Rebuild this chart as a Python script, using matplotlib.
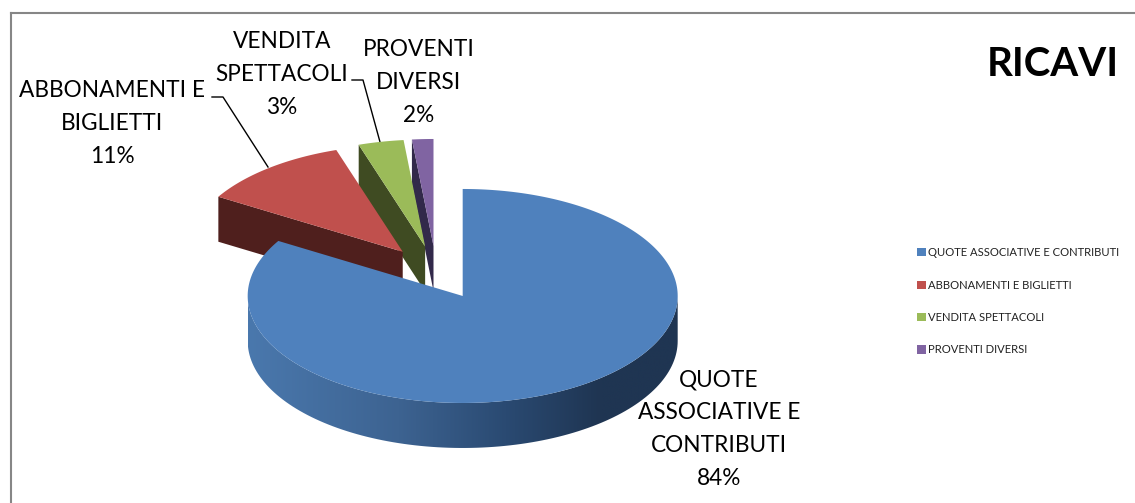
import numpy as np
import matplotlib
matplotlib.use('Agg')
import matplotlib.pyplot as plt
from matplotlib.patches import Polygon, Patch
from matplotlib.colors import LinearSegmentedColormap

plt.rcParams['font.family'] = ['Lato', 'DejaVu Sans']

# --- data ---
categories = ['QUOTE ASSOCIATIVE E CONTRIBUTI', 'ABBONAMENTI E BIGLIETTI',
              'VENDITA SPETTACOLI', 'PROVENTI DIVERSI']
values = [83.6, 11.4, 3.4, 1.6]
wrapped = ['QUOTE\nASSOCIATIVE E\nCONTRIBUTI', 'ABBONAMENTI E\nBIGLIETTI',
           'VENDITA\nSPETTACOLI', 'PROVENTI\nDIVERSI']

top_colors = ['#4F81BD', '#C0504D', '#9BBB59', '#8064A2']
side_colors = ['#1F3552', '#4F1F1D', '#3F4B22', '#32294A']
label_xy = [(719, 429), (112, 123.5), (282, 74.5), (418.5, 82.5)]

# pie geometry in pixels (y goes down)
cx, cy = 436.2, 272.7
rx, ry = 215, 107
depth = 45
explode = 0.25

fig = plt.figure(figsize=(11.35, 5.03), dpi=100)
ax = fig.add_axes([0, 0, 1, 1])


def rim(apex, t1, t2, n=120):
    t = np.radians(np.linspace(t1, t2, n))
    return np.column_stack([apex[0] + rx * np.sin(t), apex[1] - ry * np.cos(t)])


# angles run clockwise from 12 o'clock
edges = np.concatenate([[0], np.cumsum(values)]) * 360 / sum(values)
apexes = []
for i in range(len(values)):
    mid = np.radians((edges[i] + edges[i + 1]) / 2)
    apexes.append((cx + explode * rx * np.sin(mid), cy - explode * ry * np.cos(mid)))

# small slices first, back to front, the big blue one goes on top
for i in [3, 2, 1]:
    apex = np.array(apexes[i])
    start = rim(apex, edges[i], edges[i], 1)[0]
    wall = [start, apex, apex + [0, depth], start + [0, depth]]
    ax.add_patch(Polygon(wall, closed=True, fc=side_colors[i], ec='none', zorder=2 + (3 - i)))
    ax.add_patch(Polygon(np.vstack([[apex], rim(apex, edges[i], edges[i + 1])]), closed=True,
                         fc=top_colors[i], ec='none', zorder=2.5 + (3 - i)))

# blue slice: curved front wall with the horizontal shading, then the top
apex = np.array(apexes[0])
front = rim(apex, 90, 270)
wall = Polygon(np.vstack([front, (front + [0, depth])[::-1]]), closed=True, fc='none', ec='none')
ax.add_patch(wall)
shade = LinearSegmentedColormap.from_list('shade', [(0, '#4A78AD'), (0.35, '#3D6391'), (0.6, '#2A4A72'),
                                                    (0.82, '#1F3552'), (1, '#1F3552')])
img = ax.imshow(np.linspace(0, 1, 256)[None, :], cmap=shade, aspect='auto', zorder=6,
                extent=[apex[0] - rx, apex[0] + rx, apex[1] + ry + depth, apex[1] - ry])
img.set_clip_path(wall)
ax.add_patch(Polygon(np.vstack([[apex], rim(apex, edges[0], edges[1], 300)]), closed=True,
                     fc=top_colors[0], ec='none', zorder=7))

# data labels
for name, val, (x, y) in zip(wrapped, values, label_xy):
    ax.text(x, y, f'{name}\n{val:.0f}%', ha='center', va='center', fontsize=16.3,
            linespacing=1.7, color='black', zorder=8)

# leader lines
ax.plot([212, 223, 268], [97, 97, 167], color='black', lw=1, zorder=1)
ax.plot([352, 363, 380], [80, 80, 142], color='black', lw=1, zorder=1)

ax.text(1052.5, 64.5, 'RICAVI', ha='center', va='center', fontsize=29, fontweight='bold', color='black')

handles = [Patch(fc=c, ec='none') for c in top_colors]
ax.legend(handles, categories, loc='upper left', bbox_to_anchor=(906 / 1135, 1 - 236 / 503), frameon=False,
          fontsize=8.1, labelspacing=1.9, handlelength=0.75, handleheight=0.75, handletextpad=0.2,
          borderpad=0.5, labelcolor='#222222')

# chart frame
ax.plot([11, 11], [503, 12.5], color='#868686', lw=1.5)
ax.plot([11, 1135], [12.5, 12.5], color='#868686', lw=1.5)

ax.set_xlim(0, 1135)
ax.set_ylim(503, 0)
ax.axis('off')

fig.savefig('out.png', dpi=100)
